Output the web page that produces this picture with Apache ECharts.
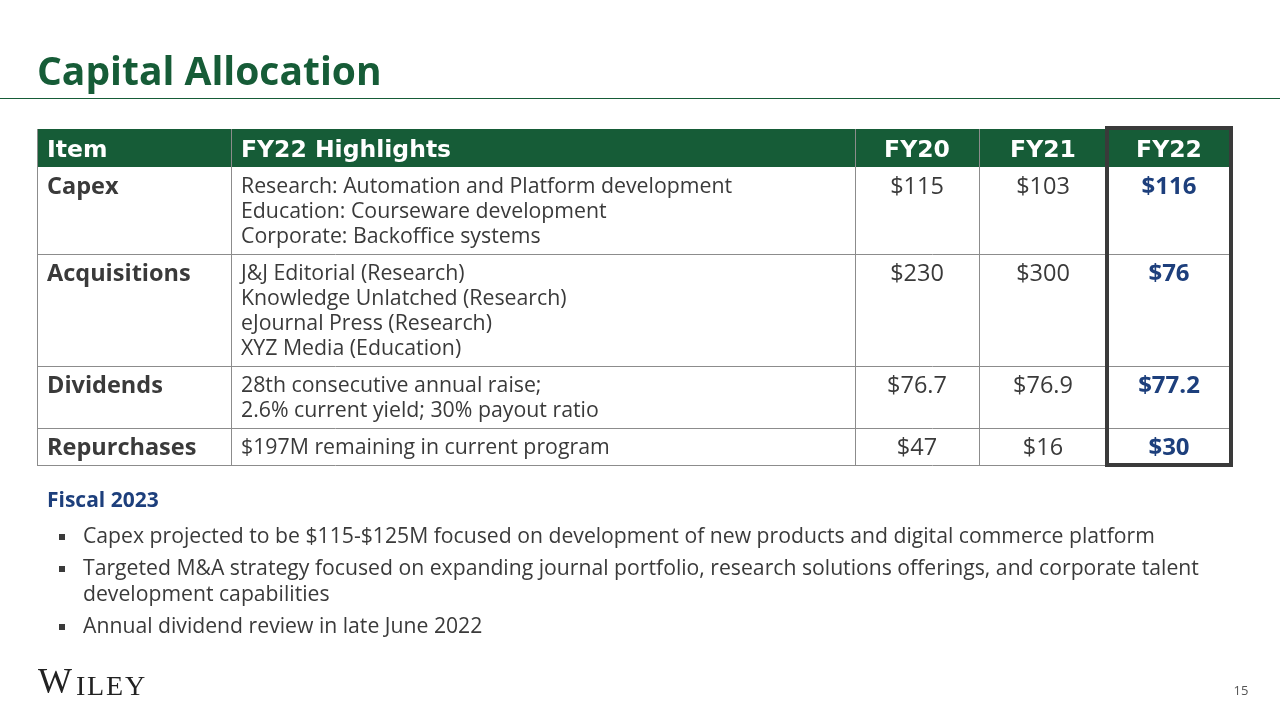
<!DOCTYPE html>
<html>
<head>
<meta charset="utf-8">
<script src="https://cdn.jsdelivr.net/npm/echarts@6/dist/echarts.min.js"></script>
<style>
  html, body { margin: 0; padding: 0; background: #fff; }
  #main { width: 1280px; height: 720px; }
</style>
</head>
<body>
<div id="main"></div>
<script>
// table content
var headers = ['Item', 'FY22 Highlights', 'FY20', 'FY21', 'FY22'];
var items = ['Capex', 'Acquisitions', 'Dividends', 'Repurchases'];
var highlights = [
  ['Research: Automation and Platform development', 'Education: Courseware development', 'Corporate: Backoffice systems'],
  ['J&J Editorial (Research)', 'Knowledge Unlatched (Research)', 'eJournal Press (Research)', 'XYZ Media (Education)'],
  ['28th consecutive annual raise;', '2.6% current yield; 30% payout ratio'],
  ['$197M remaining in current program']
];
var fy20 = [115, 230, 76.7, 47];
var fy21 = [103, 300, 76.9, 16];
var fy22 = [116, 76, 77.2, 30];
var bullets = [
  ['Capex projected to be $115-$125M focused on development of new products and digital commerce platform'],
  ['Targeted M&A strategy focused on expanding journal portfolio, research solutions offerings, and corporate talent', 'development capabilities'],
  ['Annual dividend review in late June 2022']
];

var FONT = '"Open Sans", "Noto Sans", sans-serif';
var HEAD_FONT = '"DejaVu Sans", Verdana, sans-serif';
var SERIF = '"Liberation Serif", "DejaVu Serif", serif';
var GREEN = '#165c37';
var BLUE = '#1d3f7c';
var TXT = '#3a3a3a';

var colX = [37, 231, 855, 979, 1107, 1231];
var headTop = 129, headH = 38, lineH = 25;

var myChart = echarts.init(document.getElementById('main'));
var els = [];

// title
els.push({ type: 'text', style: { text: 'Capital Allocation', x: 37, y: 74, font: 'bold 39px ' + FONT, fill: GREEN, textVerticalAlign: 'middle' } });
els.push({ type: 'line', shape: { x1: 0, y1: 98.5, x2: 1280, y2: 98.5 }, style: { stroke: GREEN, lineWidth: 1 } });

// header
els.push({ type: 'rect', shape: { x: colX[0], y: headTop, width: colX[5] - colX[0], height: headH }, style: { fill: GREEN } });
headers.forEach(function (h, i) {
  var left = i < 2;
  els.push({ type: 'text', style: {
    text: h, x: left ? colX[i] + 10 : (colX[i] + colX[i + 1]) / 2, y: headTop + headH / 2 + 3,
    font: 'bold 23.5px ' + HEAD_FONT, fill: '#fff', textAlign: left ? 'left' : 'center', textVerticalAlign: 'middle' } });
});

// rows
var y = headTop + headH;
var rowTops = [];
items.forEach(function (name, r) {
  var h = 12 + lineH * highlights[r].length;
  rowTops.push(y);
  var cy = y + 20;
  els.push({ type: 'text', style: { text: name, x: colX[0] + 10, y: cy, font: 'bold 23.5px ' + FONT, fill: TXT, textVerticalAlign: 'middle' } });
  highlights[r].forEach(function (t, k) {
    els.push({ type: 'text', style: { text: t, x: colX[1] + 10, y: cy + k * lineH, font: '21.3px ' + FONT, fill: TXT, textVerticalAlign: 'middle' } });
  });
  [fy20, fy21, fy22].forEach(function (arr, c) {
    var last = c === 2;
    els.push({ type: 'text', style: {
      text: '$' + arr[r], x: (colX[c + 2] + colX[c + 3]) / 2, y: cy,
      font: (last ? 'bold 24px ' : '23.5px ') + FONT, fill: last ? BLUE : TXT, textAlign: 'center', textVerticalAlign: 'middle' } });
  });
  y += h;
});
var tableBottom = y;

// grid lines
rowTops.slice(1).concat([tableBottom]).forEach(function (ty) {
  els.push({ type: 'line', shape: { x1: colX[0], y1: ty + 0.5, x2: colX[5], y2: ty + 0.5 }, style: { stroke: '#8c8c8c', lineWidth: 1 } });
});
colX.slice(0, 5).forEach(function (cx) {
  els.push({ type: 'line', shape: { x1: cx + 0.5, y1: headTop, x2: cx + 0.5, y2: tableBottom }, style: { stroke: '#8c8c8c', lineWidth: 1 } });
});

// FY22 highlight box
els.push({ type: 'rect', shape: { x: colX[4], y: headTop - 1, width: colX[5] - colX[4], height: tableBottom - headTop + 1 }, style: { fill: 'none', stroke: '#3a3a3a', lineWidth: 4 } });

// fiscal 2023 notes
els.push({ type: 'text', style: { text: 'Fiscal 2023', x: 47, y: 501, font: 'bold 21px ' + FONT, fill: BLUE, textVerticalAlign: 'middle' } });
var by = 537;
bullets.forEach(function (lines) {
  els.push({ type: 'rect', shape: { x: 59, y: by - 3, width: 6, height: 6 }, style: { fill: TXT } });
  lines.forEach(function (t, k) {
    els.push({ type: 'text', style: { text: t, x: 83, y: by + k * 26, font: '21.2px ' + FONT, fill: TXT, textVerticalAlign: 'middle' } });
  });
  by += 26 * (lines.length - 1) + 32;
});

// footer logo, letter by letter for its wide spacing
var logo = [['W', 38, 36], ['I', 76, 28], ['L', 87, 28], ['E', 106, 28], ['Y', 125, 28]];
logo.forEach(function (g) {
  els.push({ type: 'text', style: { text: g[0], x: g[1], y: 702, font: g[2] + 'px ' + SERIF, fill: '#222', textVerticalAlign: 'bottom' } });
});
els.push({ type: 'text', style: { text: '15', x: 1241, y: 691, font: '13px ' + FONT, fill: '#555', textAlign: 'center', textVerticalAlign: 'middle' } });

myChart.setOption({
  backgroundColor: '#fff',
  graphic: { elements: els }
});
</script>
</body>
</html>
